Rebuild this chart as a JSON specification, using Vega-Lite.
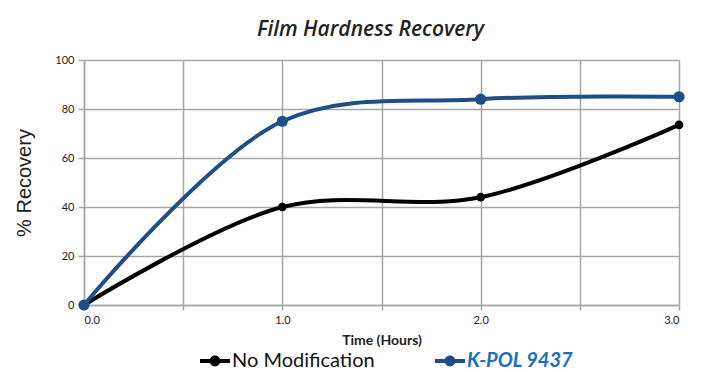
{
  "$schema": "https://vega.github.io/schema/vega-lite/v6.json",
  "width": 595,
  "height": 245,
  "autosize": {"type": "none"},
  "padding": {"left": 84, "top": 60, "right": 22, "bottom": 67},
  "background": "white",
  "title": {
    "text": "Film Hardness Recovery",
    "font": "Open Sans",
    "fontSize": 21,
    "fontWeight": 600,
    "fontStyle": "italic",
    "color": "#222222",
    "offset": 14,
    "dx": -11,
    "anchor": "middle"
  },
  "data": {
    "values": [
      {"series": "No Modification", "time": 0, "recovery": 0},
      {"series": "No Modification", "time": 1, "recovery": 40},
      {"series": "No Modification", "time": 2, "recovery": 44},
      {"series": "No Modification", "time": 3, "recovery": 73.5},
      {"series": "K-POL 9437", "time": 0, "recovery": 0},
      {"series": "K-POL 9437", "time": 1, "recovery": 75},
      {"series": "K-POL 9437", "time": 2, "recovery": 84},
      {"series": "K-POL 9437", "time": 3, "recovery": 85}
    ]
  },
  "config": {
    "view": {"stroke": null},
    "axis": {
      "gridColor": "#a6a6a6",
      "gridWidth": 1.5,
      "gridOpacity": 1,
      "domainColor": "#a6a6a6",
      "domainWidth": 1.5,
      "tickColor": "#a6a6a6",
      "tickWidth": 1.5,
      "labelFont": "Lato",
      "labelFontSize": 11,
      "labelColor": "#222222",
      "titleColor": "#222222"
    },
    "legend": {"symbolSize": 900}
  },
  "encoding": {
    "x": {
      "field": "time",
      "type": "quantitative",
      "scale": {"domain": [0, 3], "nice": false},
      "axis": {
        "values": [0, 0.5, 1, 1.5, 2, 2.5, 3],
        "labelExpr": "datum.value % 1 == 0 ? format(datum.value, '.1f') : ''",
        "tickSize": 5,
        "labelPadding": 4,
        "title": "Time (Hours)",
        "titleFont": "Lato",
        "titleFontSize": 14,
        "titleFontWeight": "bold",
        "titlePadding": 8
      }
    },
    "y": {
      "field": "recovery",
      "type": "quantitative",
      "scale": {"domain": [0, 100], "nice": false},
      "axis": {
        "values": [0, 20, 40, 60, 80, 100],
        "tickSize": 6,
        "labelPadding": 4,
        "title": "% Recovery",
        "titleFont": "Liberation Sans",
        "titleFontSize": 20,
        "titleFontWeight": "normal",
        "titlePadding": 20
      }
    },
    "color": {
      "field": "series",
      "type": "nominal",
      "sort": ["No Modification", "K-POL 9437"],
      "scale": {"domain": ["No Modification", "K-POL 9437"], "range": ["#000000", "#1d4f86"]},
      "legend": {
        "title": null,
        "orient": "none",
        "legendX": 116,
        "legendY": 286,
        "direction": "horizontal",
        "labelFont": "Lato",
        "labelFontSize": 20,
        "labelColor": "#111111",
        "labelOffset": 2,
        "columnPadding": 60,
        "symbolType": "M-1,-0.14L1,-0.14L1,0.14L-1,0.14Z M0.36,0A0.36,0.36 0 1,1 -0.36,0A0.36,0.36 0 1,1 0.36,0Z",
        "symbolSize": 900,
        "symbolStrokeWidth": 0,
        "encode": {
          "symbols": {
            "update": {
              "fill": {"signal": "scale('color', datum.value)"},
              "size": {"value": 900},
              "opacity": {"value": 1},
              "fillOpacity": {"value": 1}
            }
          },
          "labels": {
            "update": {
              "fill": {"signal": "datum.value == 'K-POL 9437' ? '#1a6fbf' : '#111111'"},
              "fontWeight": {"signal": "datum.value == 'K-POL 9437' ? 'bold' : 'normal'"},
              "fontStyle": {"signal": "datum.value == 'K-POL 9437' ? 'italic' : 'normal'"}
            }
          }
        }
      }
    }
  },
  "layer": [
    {
      "mark": {"type": "line", "interpolate": "catmull-rom", "strokeWidth": 4},
      "encoding": {}
    },
    {
      "transform": [{"filter": "datum.series == 'No Modification'"}],
      "mark": {"type": "point", "filled": true, "opacity": 1, "size": 75},
      "encoding": {}
    },
    {
      "transform": [{"filter": "datum.series == 'K-POL 9437'"}],
      "mark": {"type": "point", "filled": true, "opacity": 1, "size": 125},
      "encoding": {}
    }
  ]
}
